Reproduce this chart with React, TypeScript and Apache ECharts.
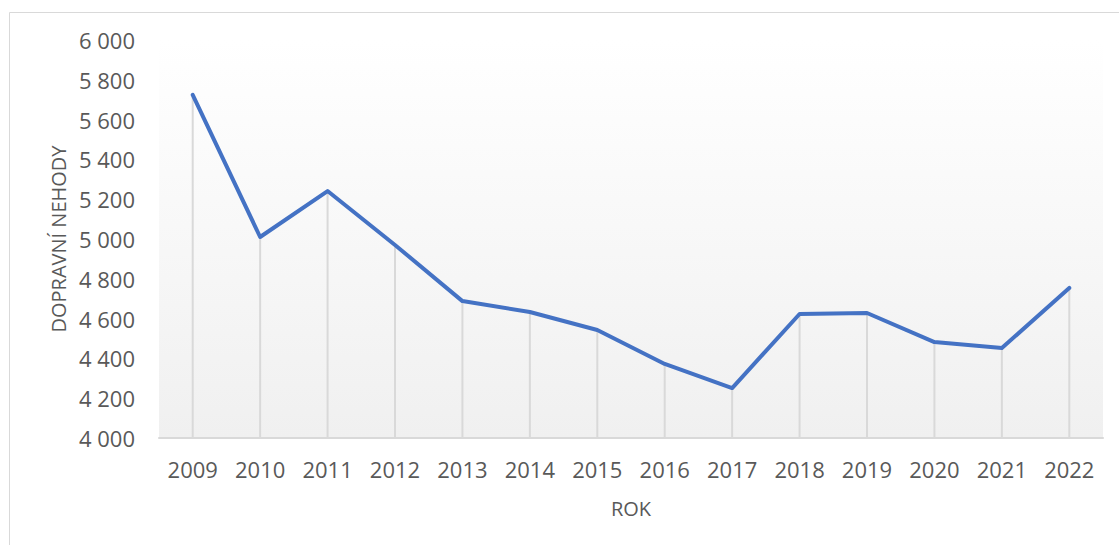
import React, { useEffect, useRef } from "react";
import * as echarts from "echarts";

const years = ["2009", "2010", "2011", "2012", "2013", "2014", "2015", "2016", "2017", "2018", "2019", "2020", "2021", "2022"];
const accidents = [5724, 5010, 5241, 4970, 4688, 4633, 4543, 4372, 4251, 4623, 4628, 4482, 4452, 4754];
const yTitle = "DOPRAVNÍ NEHODY";
const xTitle = "ROK";

const fmt = (v: number) => {
  const s = String(Math.round(v));
  return s.replace(/\B(?=(\d{3})+(?!\d))/g, " ");
};

export default function App() {
  const ref = useRef<HTMLDivElement>(null);
  useEffect(() => {
    if (!ref.current) return;
    const chart = echarts.init(ref.current, null, { renderer: "svg" });
    const font = "'Open Sans', sans-serif";
    chart.setOption({
      animation: false,
      backgroundColor: "#ffffff",
      graphic: [
        {
          type: "rect",
          shape: { x: 9.5, y: 12.5, width: 1130, height: 600 },
          style: { fill: "none", stroke: "#d9d9d9", lineWidth: 1 },
          silent: true,
        },
      ],
      grid: {
        left: 159,
        right: 16,
        top: 40,
        bottom: 107,
        show: true,
        borderWidth: 0,
        backgroundColor: {
          type: "linear",
          x: 0, y: 0, x2: 0, y2: 1,
          colorStops: [
            { offset: 0, color: "#ffffff" },
            { offset: 1, color: "#f0f0f0" },
          ],
        },
      },
      xAxis: {
        type: "category",
        data: years,
        boundaryGap: true,
        name: xTitle,
        nameLocation: "middle",
        nameGap: 60,
        nameTextStyle: { color: "#595959", fontSize: 20, fontFamily: font },
        axisLine: { show: true, lineStyle: { color: "#d9d9d9", width: 2 } },
        axisTick: { show: false },
        axisLabel: { color: "#595959", fontSize: 22, fontFamily: font, margin: 20 },
        splitLine: { show: false },
      },
      yAxis: {
        type: "value",
        min: 4000,
        max: 6000,
        interval: 200,
        name: yTitle,
        nameLocation: "middle",
        nameGap: 88,
        nameRotate: 90,
        nameTextStyle: { color: "#595959", fontSize: 20, fontFamily: font },
        axisLine: { show: false },
        axisTick: { show: false },
        splitLine: { show: false },
        axisLabel: {
          color: "#595959",
          fontSize: 22,
          fontFamily: font,
          margin: 24,
          formatter: (v: number) => fmt(v),
        },
      },
      series: [
        {
          type: "bar",
          data: accidents,
          barWidth: 2,
          itemStyle: { color: "#d9d9d9" },
          z: 1,
          silent: true,
        },
        {
          type: "line",
          data: accidents,
          showSymbol: false,
          symbol: "none",
          lineStyle: { color: "#4472C4", width: 4, cap: "round", join: "round" },
          z: 3,
        },
      ],
    });
    return () => chart.dispose();
  }, []);
  return (
    <div
      ref={ref}
      style={{ position: "fixed", left: 0, top: 0, width: 1119, height: 545 }}
    />
  );
}
